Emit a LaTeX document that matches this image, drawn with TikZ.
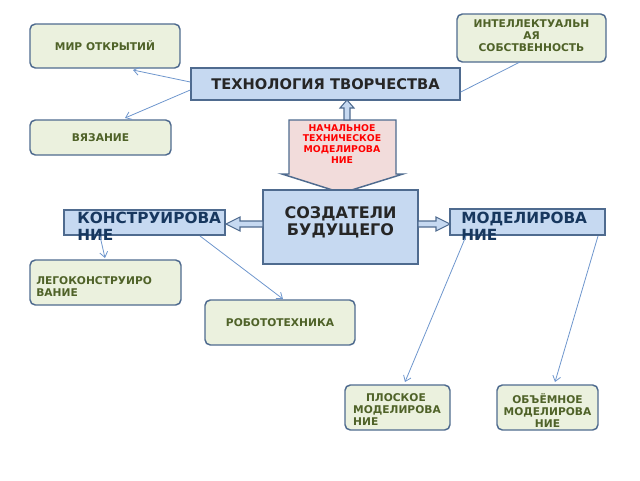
\documentclass[tikz,border=0pt]{standalone}
\usepackage{fontspec}
\setmainfont{DejaVu Sans}
\usetikzlibrary{arrows.meta}
\definecolor{gfill}{RGB}{235,241,222}
\definecolor{bfill}{RGB}{198,217,241}
\definecolor{pfill}{RGB}{242,220,219}
\definecolor{edge}{RGB}{79,107,143}
\definecolor{gtext}{RGB}{79,98,40}
\definecolor{btext}{RGB}{23,55,94}
\definecolor{conn}{RGB}{110,150,205}
\begin{document}
\begin{tikzpicture}[x=0.75pt,y=-0.75pt,
 gbox/.style={draw=edge,line width=1.1pt,fill=gfill,rounded corners=4pt,inner sep=0pt},
 bbox/.style={draw=edge,line width=1.1pt,fill=bfill,inner sep=0pt},
 gt/.style={text=gtext,font=\fontsize{8}{9}\selectfont\bfseries,align=center,inner sep=0pt},
 bt/.style={text=black!85,font=\fontsize{11}{12}\selectfont\bfseries,align=center,inner sep=0pt},
 kt/.style={text=btext,font=\fontsize{11.5}{13}\selectfont\bfseries,align=left,inner sep=0pt,anchor=north west},
 conn/.style={draw=conn,line width=0.6pt,-{Straight Barb[length=4pt,width=6pt]}},
 hollow/.style={draw=edge,fill=bfill,line width=0.8pt}]
\useasboundingbox (0,0) rectangle (640,480);
% boxes
\node[gbox,minimum width=150*0.75pt,minimum height=44*0.75pt] (mir) at (105,46) {};
\node[gt] at (mir) {МИР ОТКРЫТИЙ};
\node[gbox,minimum width=149*0.75pt,minimum height=48*0.75pt] (int) at (531.5,38) {};
\node[gt,anchor=north] at (531.5,19) {ИНТЕЛЛЕКТУАЛЬН\\АЯ\\СОБСТВЕННОСТЬ};
\node[bbox,minimum width=269*0.75pt,minimum height=32*0.75pt] (tech) at (325.5,84) {};
\node[bt] at (tech) {ТЕХНОЛОГИЯ ТВОРЧЕСТВА};
\node[gbox,minimum width=141*0.75pt,minimum height=35*0.75pt] (vyaz) at (100.5,137.5) {};
\node[gt] at (vyaz) {ВЯЗАНИЕ};
% pink arrow
\path[draw=edge,fill=pfill,line width=1.1pt] (289,120) -- (396,120) -- (396,174) -- (403,174) -- (342,193) -- (282,174) -- (289,174) -- cycle;
\node[inner sep=0pt,text=red,font=\fontsize{7}{8}\selectfont\bfseries,align=center,anchor=north] (pink) at (342,124) {НАЧАЛЬНОЕ\\ТЕХНИЧЕСКОЕ\\МОДЕЛИРОВА\\НИЕ};
\node[bbox,minimum width=155*0.75pt,minimum height=74*0.75pt] (cr) at (340.5,227) {};
\node[bt,font=\fontsize{12}{13}\selectfont\bfseries] at (340.5,222) {СОЗДАТЕЛИ\\БУДУЩЕГО};
\node[bbox,minimum width=161*0.75pt,minimum height=25*0.75pt] (kon) at (144.5,222.5) {};
\node[kt] at (77,212) {КОНСТРУИРОВА\\НИЕ};
\node[bbox,minimum width=155*0.75pt,minimum height=26*0.75pt] (mod) at (527.5,222) {};
\node[kt] at (461,212) {МОДЕЛИРОВА\\НИЕ};
\node[gbox,minimum width=151*0.75pt,minimum height=45*0.75pt] (lego) at (105.5,282.5) {};
\node[gt,align=left,anchor=north west] at (36,276) {ЛЕГОКОНСТРУИРО\\ВАНИЕ};
\node[gbox,minimum width=150*0.75pt,minimum height=45*0.75pt] (rob) at (280,322.5) {};
\node[gt] at (rob) {РОБОТОТЕХНИКА};
\node[gbox,minimum width=105*0.75pt,minimum height=45*0.75pt] (plo) at (397.5,407.5) {};
\node[gt,anchor=north,align=left] at (397,393) {\hspace*{1.2em}ПЛОСКОЕ\\МОДЕЛИРОВА\\НИЕ};
\node[gbox,minimum width=101*0.75pt,minimum height=45*0.75pt] (obe) at (547.5,407.5) {};
\node[gt,anchor=north] at (547.5,393) {ОБЪЁМНОЕ\\МОДЕЛИРОВА\\НИЕ};
% hollow arrows
\path[hollow] (344,120) -- (344,108) -- (340,108) -- (347,100) -- (354,108) -- (350,108) -- (350,120) -- cycle;
\path[hollow] (263,221) -- (240,221) -- (240,217) -- (226,224) -- (240,231) -- (240,227) -- (263,227) -- cycle;
\path[hollow] (418,221) -- (436,221) -- (436,217) -- (450,224) -- (436,231) -- (436,227) -- (418,227) -- cycle;
% connectors
\draw[conn] (tech.west |- 0,82) -- (133,70);
\draw[conn] (tech.west |- 0,90) -- (125,118);
\draw[conn,-] (tech.east |- 0,92) -- (520,62);
\draw[conn] (100,236) -- (105,258);
\draw[conn] (200,236) -- (283,299);
\draw[conn] (466,236) -- (405,382);
\draw[conn] (598,236) -- (555,382);
\end{tikzpicture}
\end{document}
